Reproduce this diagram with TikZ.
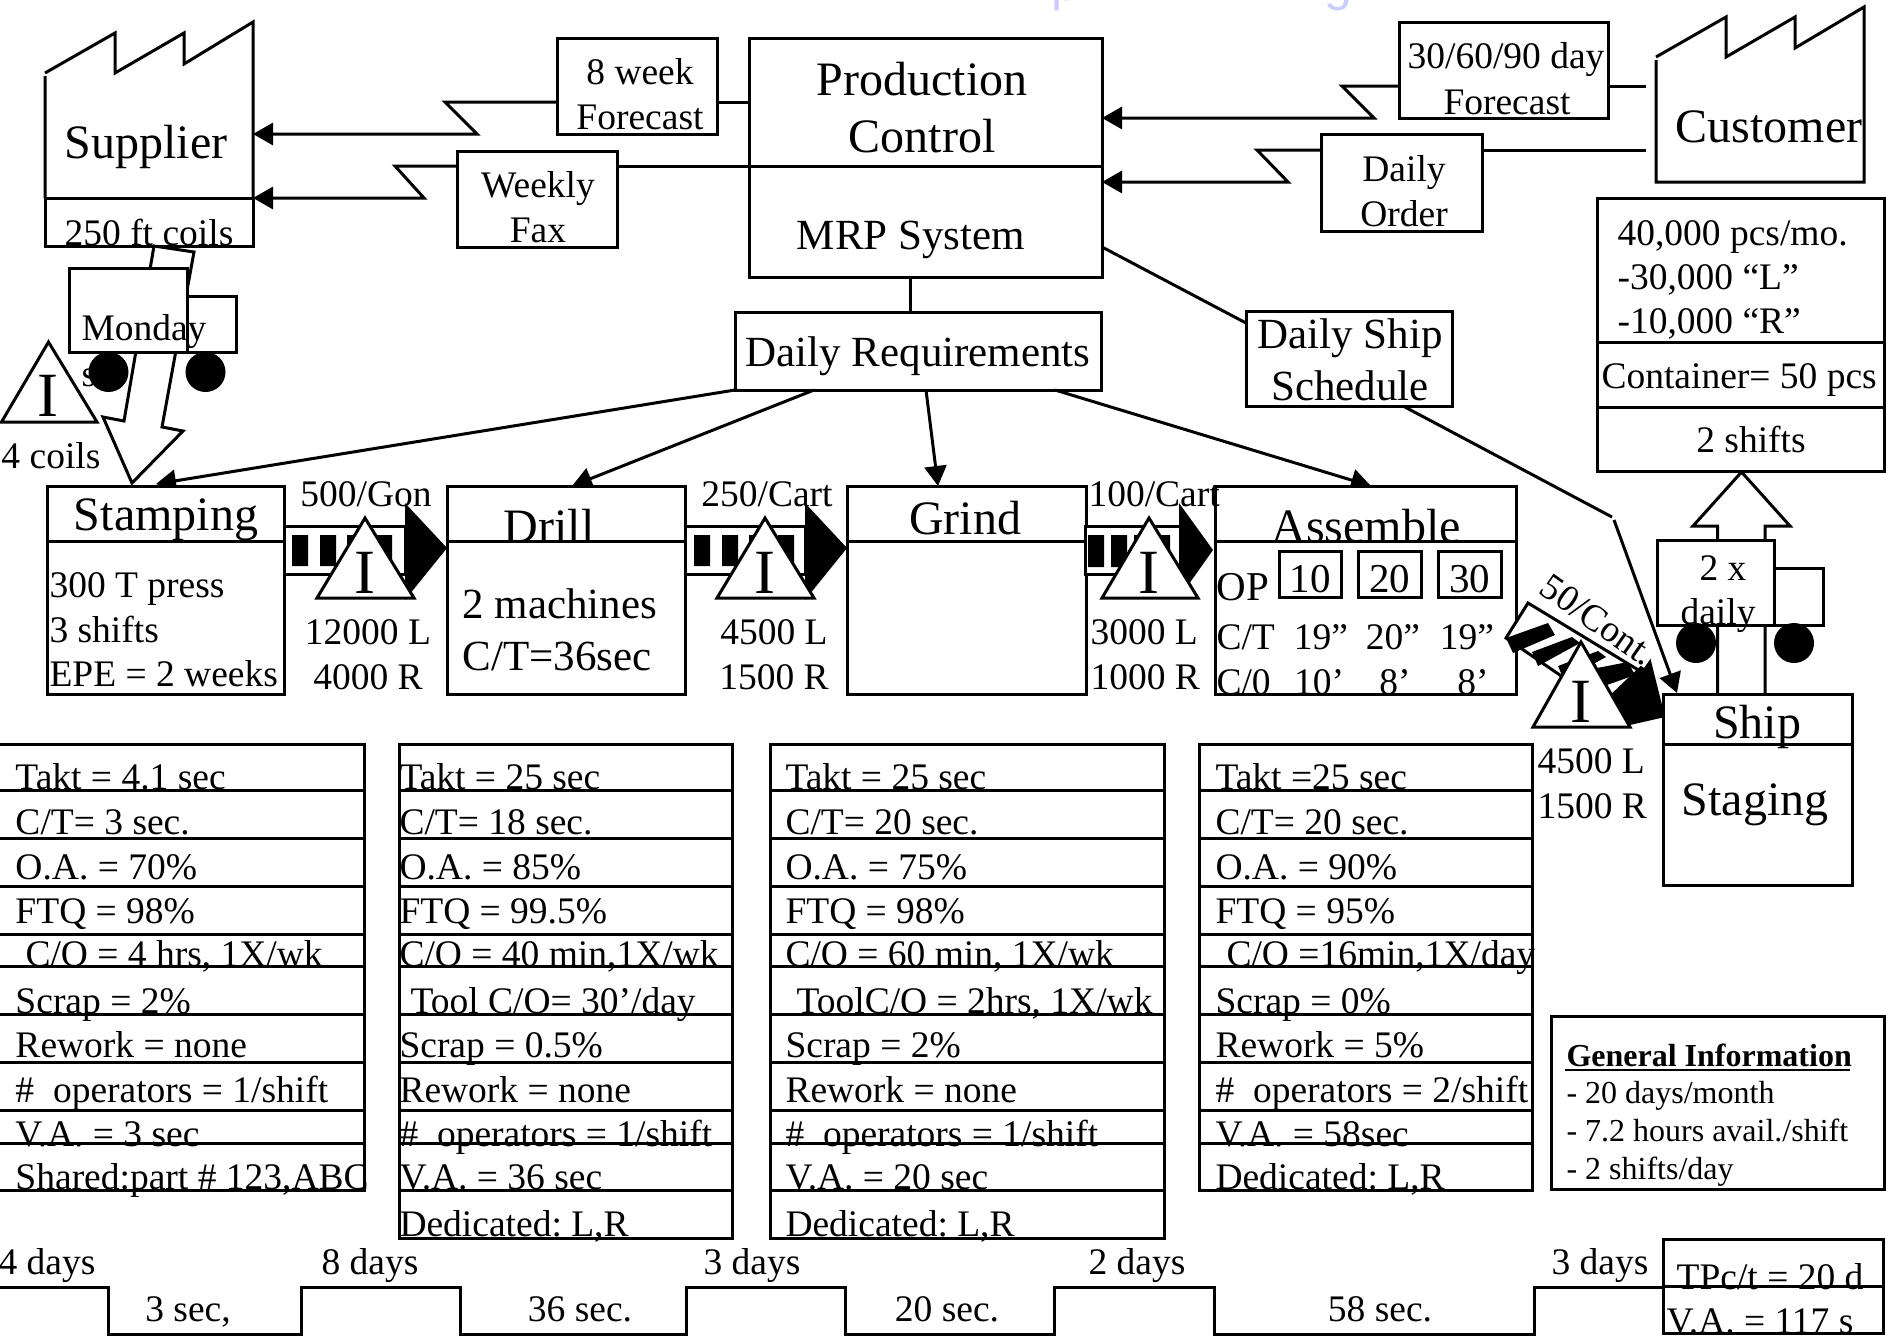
\documentclass[tikz,border=0pt]{standalone}
\usepackage{fontspec}
\setmainfont{Liberation Serif}
\newfontfamily\wmfont{Liberation Sans}
\usetikzlibrary{arrows.meta}

\begin{document}
\frenchspacing
\begin{tikzpicture}[
  x=1pt, y=-1pt,
  line width=3pt,
  box/.style={draw, fill=white, inner sep=0pt, outer sep=0pt},
  lbl/.style={inner sep=0pt, anchor=base, yshift=-1pt, font=\fontsize{37.5}{37.5}\selectfont},
  lft/.style={lbl, anchor=base west},
  big/.style={font=\fontsize{48}{48}\selectfont},
  mid/.style={font=\fontsize{43}{43}\selectfont},
  opnum/.style={font=\fontsize{41}{41}\selectfont},
  info/.style={font=\fontsize{32}{32}\selectfont},
  bang/.style={font=\fontsize{63}{63}\selectfont},
  wm/.style={inner sep=0pt, anchor=base west, text=blue!20, font=\wmfont\fontsize{50}{50}\selectfont},
  arrow/.style={-{Triangle[length=20pt,width=22pt]}, line width=3pt},
  thin/.style={line width=3pt},
  wheel/.style={circle, fill=black, inner sep=0pt, minimum size=40pt},
  tri/.style={draw, fill=white, line join=miter}
]
\useasboundingbox (0,0) rectangle (1886,1342);

% remains of the page heading
\node[wm] (headp) at (1050,0) {p};
\node[wm] (headg) at (1323,0) {g};

% supplier
\draw[thin] (45,76) -- (45,198) (45,73) -- (115,33) -- (115,73) -- (184,33) -- (184,64) -- (253,22) -- (253,198);
\node[box, minimum width=208pt, minimum height=48pt] (coils) at (149,222) {};
\node[lbl, big] (supplier) at (146,157) {Supplier};
\node[lbl] (coilstxt) at (149,244) {250 ft coils};

% customer
\draw[thin] (1656,60) -- (1656,182) -- (1864,182) -- (1864,7) -- (1795,48) -- (1795,17) -- (1726,57) -- (1726,17) -- (1656,57);
\node[lbl, big] (customer) at (1769,141) {Customer};

% production control
\node[box, minimum width=353pt, minimum height=128pt] (control) at (925.5,102) {};
\node[box, minimum width=353pt, minimum height=111pt] (mrp) at (925.5,221.5) {};
\node[lbl, big] (ctxt1) at (922,94) {Production};
\node[lbl, big] (ctxt2) at (922,151) {Control};
\node[lbl, mid] (mrptxt) at (911,248) {MRP System};

% info boxes
\node[box, minimum width=160pt, minimum height=96pt] (week) at (637,86) {};
\node[lbl] (weektxt1) at (640,83) {8 week};
\node[lbl] (weektxt2) at (640,128) {Forecast};
\node[box, minimum width=160pt, minimum height=96pt] (fax) at (537,199) {};
\node[lbl] (faxtxt1) at (538,196) {Weekly};
\node[lbl] (faxtxt2) at (538,241) {Fax};
\node[box, minimum width=209pt, minimum height=96pt] (forecast) at (1503.5,70) {};
\node[lbl] (fctxt1) at (1506,67) {30/60/90 day};
\node[lbl] (fctxt2) at (1507,113) {Forecast};
\node[box, minimum width=161pt, minimum height=97pt] (order) at (1401.5,182.5) {};
\node[lbl] (ordertxt1) at (1404,180) {Daily};
\node[lbl] (ordertxt2) at (1404,225) {Order};

% electronic flows
\coordinate (wa) at (445,102); \coordinate (wb) at (477,134);
\draw[thin] (control.west |- wa) -- (week.east |- wa);
\draw[arrow] (week.west |- wa) -- (wa) -- (wb) -- (coils.east |- wb);
\coordinate (fa) at (395,166); \coordinate (fb) at (424,198);
\draw[thin] (control.west |- fa) -- (fax.east |- fa);
\draw[arrow] (fax.west |- fa) -- (fa) -- (fb) -- (coils.north east);
\coordinate (cust1) at (1646,86); \coordinate (ca) at (1342,86); \coordinate (cb) at (1374,118);
\draw[thin] (forecast.east |- cust1) -- (cust1);
\draw[arrow] (forecast.west |- ca) -- (ca) -- (cb) -- (control.east |- cb);
\coordinate (cust2) at (1646,150); \coordinate (oa) at (1257,150); \coordinate (ob) at (1288,182);
\draw[thin] (order.east |- cust2) -- (cust2);
\draw[arrow] (order.west |- oa) -- (oa) -- (ob) -- (control.east |- ob);

% customer data
\node[box, minimum width=287pt, minimum height=144pt] (demand) at (1740.5,270) {};
\node[box, minimum width=287pt, minimum height=65pt] (container) at (1740.5,374.5) {};
\node[box, minimum width=287pt, minimum height=64pt] (shifts) at (1740.5,439) {};
\node[lft] (dem1) at (1616,244) {40,000 pcs/mo.};
\node[lft] (dem2) at (1616,288) {-30,000 “L”};
\node[lft] (dem3) at (1616,332) {-10,000 “R”};
\node[lft] (contxt) at (1600,387) {Container= 50 pcs};
\node[lbl] (shifttxt) at (1751,451) {2 shifts};

% requirements
\node[box, minimum width=366pt, minimum height=78pt] (dailyreq) at (918,351) {};
\node[lbl, mid] (reqtxt) at (918,365) {Daily Requirements};
\node[box, minimum width=206pt, minimum height=95pt] (sched) at (1349,358.5) {};
\node[lbl, mid] (schedtxt1) at (1350,347) {Daily Ship};
\node[lbl, mid] (schedtxt2) at (1350,399) {Schedule};
\coordinate (reqtop) at (910,312);
\draw[thin] (reqtop |- mrp.south) -- (reqtop);
\coordinate (reqb) at (814,390); \coordinate (reqc) at (926,390); \coordinate (reqd) at (1055,390);
\coordinate (tipa) at (156,484); \coordinate (tipb) at (572,486); \coordinate (tipc) at (938,486); \coordinate (tipd) at (1371,486);
\draw[arrow] (dailyreq.south west) -- (tipa);
\draw[arrow] (reqb) -- (tipb);
\draw[arrow] (reqc) -- (tipc);
\draw[arrow] (reqd) -- (tipd);
\coordinate (schedin) at (1246,323); \coordinate (mrpout) at (1102,247);
\draw[thin] (mrpout) -- (schedin);
\coordinate (schedout) at (1403,406); \coordinate (shipa) at (1612,517); \coordinate (shipb) at (1614,520); \coordinate (shiptip) at (1677,693);
\draw[thin] (schedout) -- (shipa);
\draw[arrow] (shipb) -- (shiptip);

% inbound truck
\coordinate (inbound) at (132,483);
\draw[box] (154,246) -- (194,252) -- (162,427) -- (183,431) -- (inbound) -- (103,417) -- (124,421) -- cycle;
\node[lft] (strays) at (80,385) {s};
\node[box, minimum width=118pt, minimum height=84pt] (cab) at (128,310) {};
\node[box, minimum width=49pt, minimum height=56pt] (trailer) at (211.5,324) {};
\node[lft] (monday) at (80,339) {Monday};
\node[wheel] (wheela) at (108.5,372) {};
\node[wheel] (wheelb) at (205.5,372) {};
\draw[tri] (1.5,422) -- (48.5,342) -- (97,422) -- cycle;
\node[lbl, bang] (inva) at (48,415) {I};
\node[lft] (invatxt) at (0,467) {4 coils};

% processes
\node[box, minimum width=237pt, minimum height=153pt] (stampbody) at (165.5,617.5) {};
\node[box, minimum width=238pt, minimum height=153pt] (drillbody) at (566,617.5) {};
\node[box, minimum width=239pt, minimum height=153pt] (grindbody) at (966.5,617.5) {};
\node[box, minimum width=301pt, minimum height=153pt] (asmbody) at (1365.5,617.5) {};
\node[box, minimum width=237pt, minimum height=55pt] (stamp) at (165.5,513.5) {};
\node[box, minimum width=238pt, minimum height=55pt] (drill) at (566,513.5) {};
\node[box, minimum width=239pt, minimum height=55pt] (grind) at (966.5,513.5) {};
\node[box, minimum width=301pt, minimum height=55pt] (asm) at (1365.5,513.5) {};
\node[lbl, big] (stamptxt) at (166,529) {Stamping};
\node[lbl, big] (drilltxt) at (549,541) {Drill};
\node[lbl, big] (grindtxt) at (965,533) {Grind};
\node[lbl, big] (asmtxt) at (1366,541) {Assemble};
\node[lft] (st1) at (48,596) {300 T press};
\node[lft] (st2) at (48,641) {3 shifts};
\node[lft] (st3) at (48,685) {EPE = 2 weeks};
\node[lft, mid] (dr1) at (461,617) {2 machines};
\node[lft, mid] (dr2) at (461,669) {C/T=36sec};
\node[lft, opnum] (optxt) at (1215,599) {OP};
\node[box, minimum width=62pt, minimum height=46pt] (opa) at (1310,574) {};
\node[box, minimum width=63pt, minimum height=46pt] (opb) at (1389.5,574) {};
\node[box, minimum width=63pt, minimum height=46pt] (opc) at (1469.5,574) {};
\node[lbl, opnum] (opatxt) at (1310,591) {10};
\node[lbl, opnum] (opbtxt) at (1389.5,591) {20};
\node[lbl, opnum] (opctxt) at (1469.5,591) {30};
\node[lft] (cttxt) at (1215,648) {C/T};
\node[lbl] (ct1) at (1321,648) {19”};
\node[lbl] (ct2) at (1393,648) {20”};
\node[lbl] (ct3) at (1467,648) {19”};
\node[lft] (cotxt) at (1215,693) {C/0};
\node[lbl] (co1) at (1319,693) {10’};
\node[lbl] (co2) at (1395,693) {8’};
\node[lbl] (co3) at (1473,693) {8’};

% push arrows, stamping to drill
\node[box, minimum width=121pt, minimum height=48pt] (pusha) at (344.5,550) {};
\fill (292,535) rectangle (308,566) (320,535) rectangle (336,566) (347,535) rectangle (363,566) (376,535) rectangle (392,566);
\fill (405,503) -- (447,548) -- (405,600) -- cycle;
\draw[tri] (317,598) -- (365,518) -- (414,598) -- cycle;
\node[lbl, bang] (invb) at (365,592) {I};
\node[lbl] (gon) at (366,505) {500/Gon};
\node[lbl] (invb1) at (368,643) {12000 L};
\node[lbl] (invb2) at (368,688) {4000 R};

% drill to grind
\node[box, minimum width=120pt, minimum height=48pt] (pushb) at (745,550) {};
\fill (694,535) rectangle (710,566) (722,535) rectangle (738,566) (749,535) rectangle (765,566) (778,535) rectangle (794,566);
\fill (805,503) -- (847,548) -- (805,600) -- cycle;
\draw[tri] (717,598) -- (765,518) -- (814,598) -- cycle;
\node[lbl, bang] (invc) at (765,592) {I};
\node[lbl] (carta) at (767,505) {250/Cart};
\node[lbl] (invc1) at (774,643) {4500 L};
\node[lbl] (invc2) at (774,688) {1500 R};

% grind to assemble
\node[box, minimum width=95pt, minimum height=48pt] (pushc) at (1132.5,550) {};
\fill (1088,535) rectangle (1104,567) (1111,535) rectangle (1127,567) (1134,535) rectangle (1150,567) (1155,535) rectangle (1170,567);
\fill (1179,503) -- (1213,550) -- (1179,598) -- cycle;
\draw[tri] (1102,598) -- (1149,518) -- (1198,598) -- cycle;
\node[lbl, bang] (invd) at (1149,592) {I};
\node[lft] (cartb) at (1087,505) {100/Cart};
\node[lft] (invd1) at (1089,643) {3000 L};
\node[lft] (invd2) at (1089,688) {1000 R};

% assemble to ship
\draw[box] (1528,603) -- (1640,671) -- (1618,715) -- (1506,638) -- cycle;
\fill (1506,638) -- (1548,623) -- (1555,635) -- (1513,653) -- cycle;
\fill (1532,652) -- (1572,637) -- (1580,643) -- (1538,666) -- cycle;
\fill (1558,666) -- (1598,651) -- (1606,657) -- (1564,680) -- cycle;
\fill (1597,668) -- (1628,662) -- (1635,675) -- (1607,685) -- cycle;
\fill (1650,657) -- (1665,717) -- (1630,725) -- (1605,700) -- cycle;
\draw[tri] (1533,727) -- (1581,642) -- (1630,727) -- cycle;
\node[lbl, bang] (inve) at (1581,721) {I};
\node[lbl, rotate=-35, fill=white, inner xsep=0pt] (cont) at (1591,629) {50/Cont.};
\node[lft] (inve1) at (1536,772) {4500 L};
\node[lft] (inve2) at (1536,817) {1500 R};

% outbound truck
\coordinate (outbound) at (1741.5,472);
\draw[box] (1717.5,693) -- (1717.5,526) -- (1693,526) -- (outbound) -- (1790,526) -- (1765,526) -- (1765,693);
\node[box, minimum width=117pt, minimum height=85pt] (cabb) at (1716,582.5) {};
\node[box, minimum width=49pt, minimum height=57pt] (trailerb) at (1798.5,596.5) {};
\node[lbl] (twox) at (1723,579) {2 x};
\node[lbl] (dailytxt) at (1718,623) {daily};
\node[wheel] (wheelc) at (1696,643) {};
\node[wheel] (wheeld) at (1794,643) {};

% ship
\node[box, minimum width=189pt, minimum height=50pt] (ship) at (1757.5,719) {};
\node[box, minimum width=189pt, minimum height=141pt] (staging) at (1757.5,814.5) {};
\node[lbl, big] (shiptxt) at (1757,737) {Ship};
\node[lbl, big] (stagingtxt) at (1755,814) {Staging};

% stamping data
\draw (-5,744) rectangle (364,1190);
\draw (-5,790) -- (364,790) (-5,838) -- (364,838) (-5,886) -- (364,886) (-5,934) -- (364,934) (-5,966) -- (364,966) (-5,1014) -- (364,1014) (-5,1062) -- (364,1062) (-5,1110) -- (364,1110) (-5,1143) -- (364,1143);
\node[lft] (sa1) at (14,788) {Takt = 4.1 sec};
\node[lft] (sa2) at (14,833) {C/T= 3 sec.};
\node[lft] (sa3) at (14,878) {O.A. = 70\%};
\node[lft] (sa4) at (14,922) {FTQ = 98\%};
\node[lft] (sa5) at (24,965) {C/O = 4 hrs, 1X/wk};
\node[lft] (sa6) at (14,1012) {Scrap = 2\%};
\node[lft] (sa7) at (14,1056) {Rework = none};
\node[lft] (sa8) at (14,1101) {\#~ operators = 1/shift};
\node[lft] (sa9) at (14,1145) {V.A. = 3 sec};
\node[lft] (sa10) at (14,1188) {Shared:part \# 123,ABC};

% drill data
\draw (399,744) rectangle (732,1238);
\draw (399,790) -- (732,790) (399,838) -- (732,838) (399,886) -- (732,886) (399,934) -- (732,934) (399,966) -- (732,966) (399,1014) -- (732,1014) (399,1062) -- (732,1062) (399,1110) -- (732,1110) (399,1143) -- (732,1143) (399,1190) -- (732,1190);
\node[lft] (da1) at (398,788) {Takt = 25 sec};
\node[lft] (da2) at (398,833) {C/T= 18 sec.};
\node[lft] (da3) at (398,878) {O.A. = 85\%};
\node[lft] (da4) at (398,922) {FTQ = 99.5\%};
\node[lft] (da5) at (398,965) {C/O = 40 min,1X/wk};
\node[lft] (da6) at (409,1012) {Tool C/O= 30’/day};
\node[lft] (da7) at (398,1056) {Scrap = 0.5\%};
\node[lft] (da8) at (398,1101) {Rework = none};
\node[lft] (da9) at (398,1145) {\#~ operators = 1/shift};
\node[lft] (da10) at (398,1188) {V.A. = 36 sec};
\node[lft] (da11) at (398,1235) {Dedicated: L,R};

% grind data
\draw (770,744) rectangle (1164,1238);
\draw (770,790) -- (1164,790) (770,838) -- (1164,838) (770,886) -- (1164,886) (770,934) -- (1164,934) (770,966) -- (1164,966) (770,1014) -- (1164,1014) (770,1062) -- (1164,1062) (770,1110) -- (1164,1110) (770,1143) -- (1164,1143) (770,1190) -- (1164,1190);
\node[lft] (ga1) at (784,788) {Takt = 25 sec};
\node[lft] (ga2) at (784,833) {C/T= 20 sec.};
\node[lft] (ga3) at (784,878) {O.A. = 75\%};
\node[lft] (ga4) at (784,922) {FTQ = 98\%};
\node[lft] (ga5) at (784,965) {C/O = 60 min, 1X/wk};
\node[lft] (ga6) at (795,1012) {ToolC/O = 2hrs, 1X/wk};
\node[lft] (ga7) at (784,1056) {Scrap = 2\%};
\node[lft] (ga8) at (784,1101) {Rework = none};
\node[lft] (ga9) at (784,1145) {\#~ operators = 1/shift};
\node[lft] (ga10) at (784,1188) {V.A. = 20 sec};
\node[lft] (ga11) at (784,1235) {Dedicated: L,R};

% assemble data
\draw (1199,744) rectangle (1532,1190);
\draw (1199,790) -- (1532,790) (1199,838) -- (1532,838) (1199,886) -- (1532,886) (1199,934) -- (1532,934) (1199,966) -- (1532,966) (1199,1014) -- (1532,1014) (1199,1062) -- (1532,1062) (1199,1110) -- (1532,1110) (1199,1143) -- (1532,1143);
\node[lft] (aa1) at (1214,788) {Takt =25 sec};
\node[lft] (aa2) at (1214,833) {C/T= 20 sec.};
\node[lft] (aa3) at (1214,878) {O.A. = 90\%};
\node[lft] (aa4) at (1214,922) {FTQ = 95\%};
\node[lft] (aa5) at (1225,965) {C/O =16min,1X/day};
\node[lft] (aa6) at (1214,1012) {Scrap = 0\%};
\node[lft] (aa7) at (1214,1056) {Rework = 5\%};
\node[lft] (aa8) at (1214,1101) {\#~ operators = 2/shift};
\node[lft] (aa9) at (1214,1145) {V.A. = 58sec};
\node[lft] (aa10) at (1214,1188) {Dedicated: L,R};

% general information
\node[box, minimum width=333pt, minimum height=173pt] (general) at (1717.5,1102.5) {};
\node[lft, info] (gen0) at (1565,1065) {\bfseries General Information};
\draw[line width=2pt] (gen0.base west) ++(0,4) -- ++(285,0);
\node[lft, info] (gen1) at (1565,1102) {- 20 days/month};
\node[lft, info] (gen2) at (1565,1140) {- 7.2 hours avail./shift};
\node[lft, info] (gen3) at (1565,1178) {- 2 shifts/day};

% timeline
\draw[line cap=rect] (-5,1287) -- (108,1287) -- (108,1334) -- (301,1334) -- (301,1287) -- (460,1287) -- (460,1334) -- (686,1334) -- (686,1287) -- (845,1287) -- (845,1334) -- (1054,1334) -- (1054,1287) -- (1214,1287) -- (1214,1334) -- (1534,1334) -- (1534,1287) -- (1663,1287);
\node[box, minimum width=220pt, minimum height=94pt] (total) at (1773,1286) {};
\draw (total.west) -- (total.east);
\node[lbl] (tpc) at (1770,1288) {TPc/t = 20 d};
\node[lbl] (vat) at (1760,1332) {V.A. = 117 s};
\node[lft] (lta) at (-3,1273) {4 days};
\node[lbl] (ltb) at (370,1273) {8 days};
\node[lbl] (ltc) at (752,1273) {3 days};
\node[lbl] (ltd) at (1137,1273) {2 days};
\node[lbl] (lte) at (1600,1273) {3 days};
\node[lbl] (vaa) at (188,1320) {3 sec,};
\node[lbl] (vab) at (580,1320) {36 sec.};
\node[lbl] (vac) at (947,1320) {20 sec.};
\node[lbl] (vad) at (1380,1320) {58 sec.};

\end{tikzpicture}
\end{document}
